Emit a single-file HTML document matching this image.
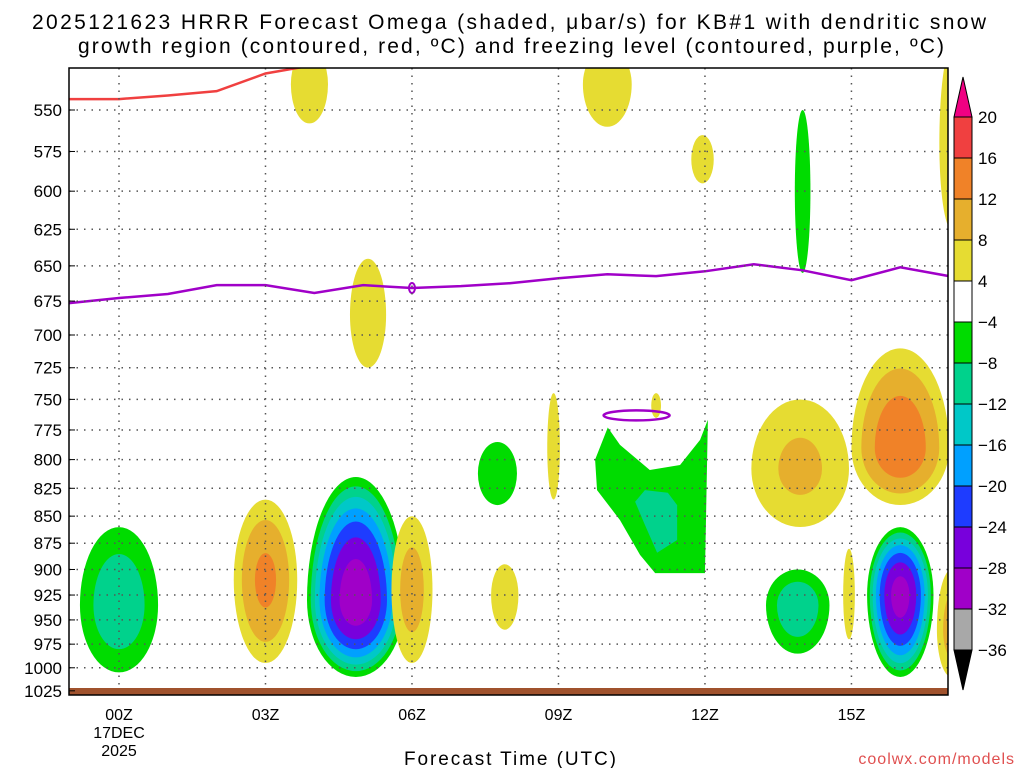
<!DOCTYPE html>
<html><head><meta charset="utf-8"><style>
body{margin:0;background:#fff;width:1024px;height:768px;overflow:hidden;font-family:"Liberation Sans",sans-serif}
svg text{font-family:"Liberation Sans",sans-serif}
</style></head><body>
<svg id="chart" width="1024" height="768" xmlns="http://www.w3.org/2000/svg">
<text x="32" y="29" font-size="21" textLength="954" lengthAdjust="spacing">2025121623 HRRR Forecast Omega (shaded, μbar/s) for KB#1 with dendritic snow</text>
<text x="78" y="53" font-size="21" textLength="866" lengthAdjust="spacing">growth region (contoured, red, ºC) and freezing level (contoured, purple, ºC)</text>
<g id="plot"></g>
<text x="404" y="765" font-size="19" textLength="212" lengthAdjust="spacing">Forecast Time (UTC)</text>
<text x="1015" y="764" font-size="16" fill="#e05050" text-anchor="end" letter-spacing="1">coolwx.com/models</text>
</svg>
<script>
const pressureTicks=[550,575,600,625,650,675,700,725,750,775,800,825,850,875,900,925,950,975,1000,1025];
const timeTicks=[0,3,6,9,12,15];
const timeLabels=["00Z","03Z","06Z","09Z","12Z","15Z"];
const cbLevels=[20,16,12,8,4,-4,-8,-12,-16,-20,-24,-28,-32,-36];
const cbColors=["#f04040","#f08228","#e6af2d","#e6dc32","#ffffff","#00dc00","#00d28c","#00c8c8","#00a0ff","#1e3cff","#7800dc","#a000c8","#a8a8a8"];
// omega blobs: center time (h), center pressure (hPa), outer half-width (h), outer top/bottom pressure, peak value
const blobT=[0,3.0,4.85,6.0,7.9,7.75,8.9,11.0,13.95,16.0,13.9,16.0,14.95,17.05,3.9,10.0,11.95,14.0,5.1,17.05];
const blobP=[935,910,930,920,925,812,790,755,808,790,935,925,925,960,535,535,580,600,685,570];
const blobW=[0.8,0.65,1.0,0.42,0.28,0.4,0.13,0.1,1.0,1.0,0.65,0.68,0.12,0.3,0.38,0.5,0.23,0.16,0.37,0.25];
const blobTop=[860,835,815,850,895,785,745,745,750,710,900,860,880,900,515,515,565,550,645,515];
const blobBot=[1005,995,1010,995,960,840,835,765,860,840,985,1010,970,1010,558,560,595,655,725,625];
const blobPeak=[-11,13,-31,10,6,-6,5,5,9,15,-11,-30,5,10,6,6,5,-6,6,6];
// irregular sinking region near 10-12Z
const regT=[10.01,9.75,9.79,10.26,10.67,10.98,12.0,12.06,11.9,11.49,10.87,10.26];
const regP=[773,800,826.6,853.6,886,903.5,903.5,766.6,783.3,804.7,809,787.5];
const regInT=[10.57,10.77,11.24,11.43,11.43,11.02,10.77];
const regInP=[837,826.6,829,840,872,884,858];
// dendritic growth line (red) and freezing level (purple)
const dgzT=[-1.02,0,1,2,3,3.6,4];
const dgzP=[543.6,543.6,541.5,539,528.9,526,524];
const fzT=[-1.02,0,1,2,3,4,5,6,7,8,9,10,11,12,13,14,15,16,17];
const fzP=[676.5,672.8,669.9,663.6,663.6,669.2,663.6,665.6,664.3,662.2,658.7,655.9,657.2,653.8,648.9,653.1,660.1,651.0,657.2];

const NS="http://www.w3.org/2000/svg";
const L=69,R=948,T=68,B=695;
const x=t=>119+t*48.83;
const y=p=>110+933*Math.log(p/550);
const plot=document.getElementById('plot');
function mk(tag,attrs,parent){const e=document.createElementNS(NS,tag);for(const k in attrs)e.setAttribute(k,attrs[k]);(parent||plot).appendChild(e);return e;}
function colorFor(v){
  if(v>=20)return "#f00082"; if(v>=16)return cbColors[0]; if(v>=12)return cbColors[1]; if(v>=8)return cbColors[2]; if(v>=4)return cbColors[3];
  if(v<=-36)return "#000"; if(v<=-32)return cbColors[12]; if(v<=-28)return cbColors[11]; if(v<=-24)return cbColors[10]; if(v<=-20)return cbColors[9];
  if(v<=-16)return cbColors[8]; if(v<=-12)return cbColors[7]; if(v<=-8)return cbColors[6]; return cbColors[5];}
const defs=mk('defs',{});
const cp=mk('clipPath',{id:'clip'},defs);mk('rect',{x:L,y:T,width:R-L,height:B-T},cp);
const g=mk('g',{'clip-path':'url(#clip)'});
for(let i=0;i<blobT.length;i++){
  const pk=blobPeak[i],s=Math.sign(pk);
  const bg=mk('g',{},g);
  
  
  const cx=x(blobT[i]),cy=y(blobP[i]);
  const rx=blobW[i]*48.83, ryT=cy-y(blobTop[i]), ryB=y(blobBot[i])-cy;
  for(let lev=4;lev<Math.abs(pk);lev+=4){
    const r=Math.sqrt((1-lev/Math.abs(pk))/(1-4/Math.abs(pk)));
    const d=`M${cx-rx*r},${cy} A${rx*r},${ryT*r} 0 0 1 ${cx+rx*r},${cy} A${rx*r},${ryB*r} 0 0 1 ${cx-rx*r},${cy}Z`;
    mk('path',{d:d,fill:colorFor(s*lev)},bg);
  }
}
function poly(ts,ps,fill,name){const pts=ts.map((t,i)=>x(t)+','+y(ps[i])).join(' ');const e=mk('polygon',{points:pts,fill:fill},g);}
poly(regT,regP,cbColors[5],'sinking-region');
poly(regInT,regInP,cbColors[6],'sinking-region-core');
for(const p of pressureTicks){const e=mk('line',{x1:L,x2:R,y1:y(p),y2:y(p),stroke:'#555','stroke-width':1.5,'stroke-dasharray':'1.5 6'});}
for(const t of timeTicks){const e=mk('line',{x1:x(t),x2:x(t),y1:T,y2:B,stroke:'#555','stroke-width':1.5,'stroke-dasharray':'1.5 6'});}
const gr=mk('rect',{x:L,y:688,width:R-L,height:7,fill:'#a0522d'});

const dl=mk('polyline',{points:dgzT.map((t,i)=>x(t)+','+y(dgzP[i])).join(' '),fill:'none',stroke:'#f04040','stroke-width':2.5},g);

const fl=mk('polyline',{points:fzT.map((t,i)=>x(t)+','+y(fzP[i])).join(' '),fill:'none',stroke:'#a000c8','stroke-width':2.5},g);

const fr=mk('ellipse',{cx:x(10.6),cy:y(763),rx:33,ry:5,fill:'none',stroke:'#a000c8','stroke-width':2.5},g);

const fs=mk('ellipse',{cx:x(6),cy:y(665.6),rx:3,ry:5,fill:'none',stroke:'#a000c8','stroke-width':2},g);

const fr2=mk('rect',{x:L,y:T,width:R-L,height:B-T,fill:'none',stroke:'#000','stroke-width':1.5});

for(const p of pressureTicks){const e=mk('text',{x:62,y:y(p)+6,'font-size':17,'text-anchor':'end'});e.textContent=p;
 mk('line',{x1:L,x2:L+6,y1:y(p),y2:y(p),stroke:'#000'});}
timeTicks.forEach((t,i)=>{const e=mk('text',{x:x(t),y:720,'font-size':16,'text-anchor':'middle'});e.textContent=timeLabels[i];});
[["17DEC",738],["2025",756]].forEach(a=>{const e=mk('text',{x:119,y:a[1],'font-size':16,'text-anchor':'middle'});e.textContent=a[0];});
const cx0=954,cw=18,step=(650-117)/13;
const cbY=i=>117+i*step;
const cb=mk('g',{});
mk('polygon',{points:`${cx0},117 ${cx0+cw/2},77 ${cx0+cw},117`,fill:'#f00082',stroke:'#000'},cb);
cbColors.forEach((c,i)=>{mk('rect',{x:cx0,y:cbY(i),width:cw,height:step,fill:c,stroke:'#000'},cb);});
mk('polygon',{points:`${cx0},650 ${cx0+cw/2},690 ${cx0+cw},650`,fill:'#000',stroke:'#000'},cb);
cbLevels.forEach((v,i)=>{const e=mk('text',{x:978,y:cbY(i)+6,'font-size':17},cb);e.textContent=v<0?'−'+(-v):v;});
</script>
</body></html>
